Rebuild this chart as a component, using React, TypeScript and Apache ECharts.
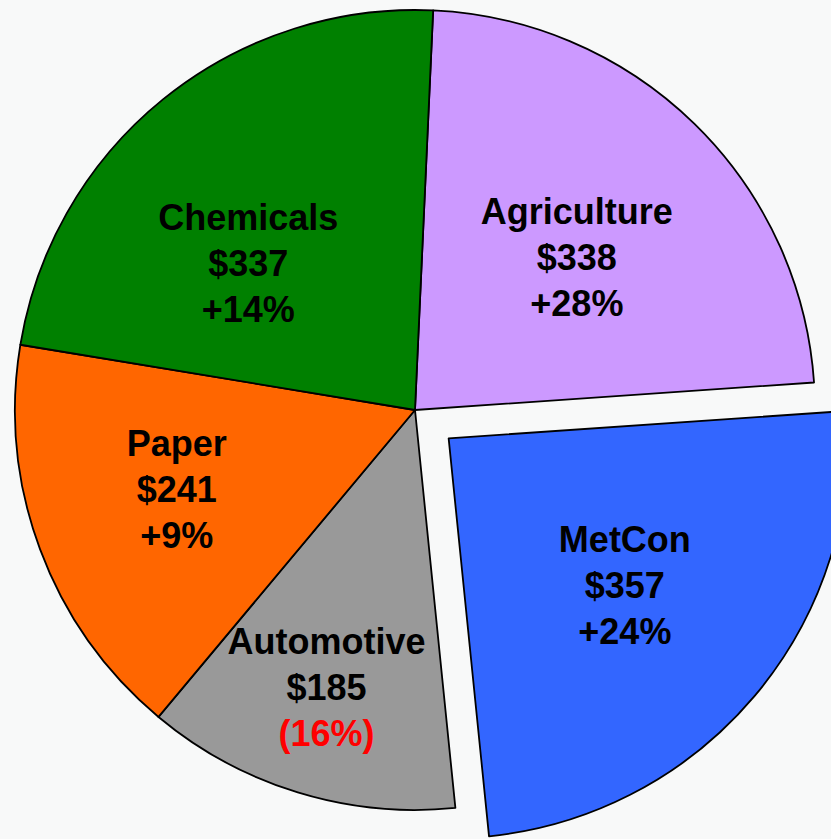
import React, { useEffect, useRef } from "react";
import * as echarts from "echarts";

const categories = ["Agriculture", "MetCon", "Automotive", "Paper", "Chemicals"];
const revenues = [338, 357, 185, 241, 337];
const changes = [28, 24, -16, 9, 14];
const colors = ["#CC99FF", "#3366FF", "#999999", "#FF6600", "#008000"];
// label nudges (px) relative to ECharts' inside label position
const labelNudges: [number, number][] = [
  [20, -7],
  [21, 16],
  [-29, 83],
  [-48, 9],
  [-39, 11],
];

export default function App() {
  const ref = useRef<HTMLDivElement>(null);
  useEffect(() => {
    if (!ref.current) return;
    const chart = echarts.init(ref.current, null, { renderer: "svg" });
    const data = categories.map((name, i) => ({
      name,
      value: revenues[i],
      selected: name === "MetCon",
      itemStyle: { color: colors[i] },
    }));
    const font = "Liberation Sans, Arial, sans-serif";
    chart.setOption({
      animation: false,
      backgroundColor: "#f8f9f9",
      series: [
        {
          type: "pie",
          center: [415, 410],
          radius: [0, 400],
          startAngle: 87.4,
          clockwise: true,
          selectedMode: "single",
          selectedOffset: 44,
          avoidLabelOverlap: false,
          itemStyle: { borderColor: "#000", borderWidth: 1.8 },
          emphasis: { disabled: true },
          label: {
            show: true,
            position: "inside",
            fontFamily: font,
            formatter: (p: any) => {
              const c = changes[p.dataIndex];
              const ch = c < 0 ? `{r|(${Math.abs(c)}%)}` : `{b|+${c}%}`;
              return `{b|${p.name}}\n{b|$${p.value}}\n${ch}`;
            },
            rich: {
              b: {
                fontSize: 36,
                fontWeight: "bold",
                color: "#000",
                lineHeight: 46,
                fontFamily: font,
              },
              r: {
                fontSize: 36,
                fontWeight: "bold",
                color: "#FF0000",
                lineHeight: 46,
                fontFamily: font,
              },
            },
          },
          labelLine: { show: false },
          labelLayout: (params: any) => {
            const n = labelNudges[params.dataIndex] || [0, 0];
            return { dx: n[0], dy: n[1] };
          },
          data,
        },
      ],
    });
    return () => chart.dispose();
  }, []);
  return (
    <div
      ref={ref}
      style={{ position: "absolute", left: 0, top: 0, width: 831, height: 839 }}
    />
  );
}
